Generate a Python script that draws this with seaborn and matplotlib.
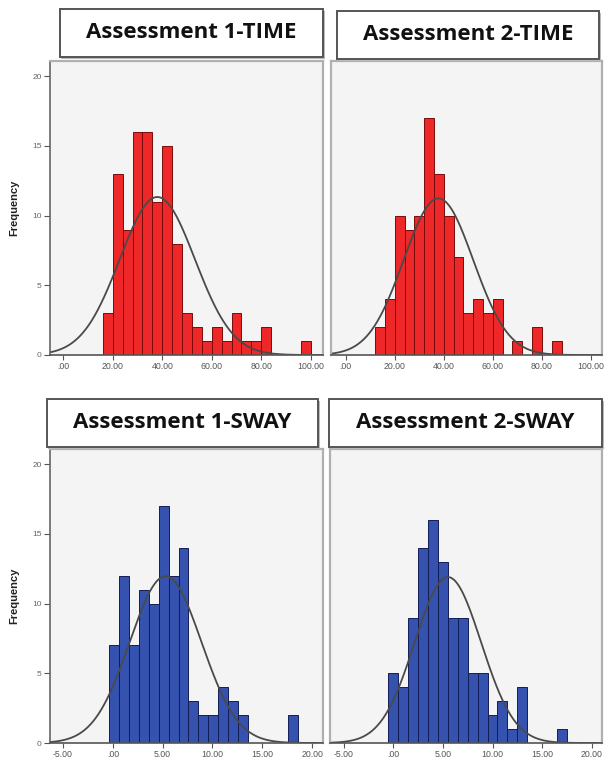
import numpy as np
import pandas as pd
import matplotlib
matplotlib.use("Agg")
import matplotlib.pyplot as plt
from matplotlib.patches import Rectangle
import seaborn as sns

# ---------------- data ----------------
titles = ["Assessment 1-TIME", "Assessment 2-TIME", "Assessment 1-SWAY", "Assessment 2-SWAY"]

time1_start, time1_width = 16.0, 4.0
time1_counts = [3, 13, 9, 16, 16, 11, 15, 8, 3, 2, 1, 2, 1, 3, 1, 1, 2, 0, 0, 0, 1]
time1_mean, time1_sd = 38.0, 15.2

time2_start, time2_width = 12.0, 4.0
time2_counts = [2, 4, 10, 9, 10, 17, 13, 10, 7, 3, 4, 3, 4, 0, 1, 0, 2, 0, 1]
time2_mean, time2_sd = 37.8, 14.2

sway1_start, sway1_width = -0.4, 1.0
sway1_counts = [7, 12, 7, 11, 10, 17, 12, 14, 3, 2, 2, 4, 3, 2, 0, 0, 0, 0, 2]
sway1_mean, sway1_sd = 5.3, 3.6

sway2_start, sway2_width = -0.5, 1.0
sway2_counts = [5, 4, 9, 14, 16, 13, 9, 9, 5, 5, 2, 3, 1, 4, 0, 0, 0, 1]
sway2_mean, sway2_sd = 5.5, 3.35

time_ticks = [0, 20, 40, 60, 80, 100]
time_ticklabels = [".00", "20.00", "40.00", "60.00", "80.00", "100.00"]
sway_ticks = [-5, 0, 5, 10, 15, 20]
sway_ticklabels = ["-5.00", ".00", "5.00", "10.00", "15.00", "20.00"]
y_ticks = [0, 5, 10, 15, 20]
y_ticklabels = ["0", "5", "10", "15", "20"]

# ---------------- style ----------------
sns.set_theme(style="white")
plt.rcParams["font.family"] = ["Liberation Sans", "DejaVu Sans"]

W, H = 604, 760
fig = plt.figure(figsize=(W / 100, H / 100), dpi=100)
fig.patch.set_facecolor("white")

RED, RED_EDGE = "#EE2828", "#7a0a0a"
BLUE, BLUE_EDGE = "#3452AE", "#141c55"
PLOT_BG = "#F4F4F4"


def px_axes(x0, y0, x1, y1):
    return fig.add_axes([x0 / W, 1 - y1 / H, (x1 - x0) / W, (y1 - y0) / H])


panels = [
    dict(title=titles[0], start=time1_start, width=time1_width, counts=time1_counts,
         mean=time1_mean, sd=time1_sd, color=RED, edge=RED_EDGE,
         ticks=time_ticks, labels=time_ticklabels, xlim=(-5.4, 105.0),
         ax=(50, 61, 323, 355), box=(60, 9, 323, 57), left=True),
    dict(title=titles[1], start=time2_start, width=time2_width, counts=time2_counts,
         mean=time2_mean, sd=time2_sd, color=RED, edge=RED_EDGE,
         ticks=time_ticks, labels=time_ticklabels, xlim=(-6.0, 104.5),
         ax=(331, 61, 602, 355), box=(337, 11, 599, 59), left=False),
    dict(title=titles[2], start=sway1_start, width=sway1_width, counts=sway1_counts,
         mean=sway1_mean, sd=sway1_sd, color=BLUE, edge=BLUE_EDGE,
         ticks=sway_ticks, labels=sway_ticklabels, xlim=(-6.3, 21.1),
         ax=(50, 449, 323, 743), box=(47, 399, 318, 447), left=True),
    dict(title=titles[3], start=sway2_start, width=sway2_width, counts=sway2_counts,
         mean=sway2_mean, sd=sway2_sd, color=BLUE, edge=BLUE_EDGE,
         ticks=sway_ticks, labels=sway_ticklabels, xlim=(-6.4, 21.05),
         ax=(330, 449, 602, 743), box=(329, 399, 602, 447), left=False),
]

for p in panels:
    ax = px_axes(*p["ax"])
    ax.set_facecolor(PLOT_BG)
    counts = np.array(p["counts"], dtype=float)
    n_bins = len(counts)
    edges = [float(e) for e in p["start"] + p["width"] * np.arange(n_bins + 1)]
    centers = [(edges[i] + edges[i + 1]) / 2 for i in range(n_bins)]
    df = pd.DataFrame({"value": centers, "count": counts})
    sns.histplot(data=df, x="value", weights="count", bins=edges, ax=ax,
                 color=p["color"], edgecolor=p["edge"], linewidth=0.7, alpha=1.0)

    # fitted normal curve
    n_total = counts.sum()
    xs = np.linspace(p["xlim"][0], p["xlim"][1], 400)
    ys = n_total * p["width"] / (p["sd"] * np.sqrt(2 * np.pi)) * np.exp(-0.5 * ((xs - p["mean"]) / p["sd"]) ** 2)
    sns.lineplot(x=xs, y=ys, ax=ax, color="#4a4a4a", linewidth=1.3)

    ax.set_xlim(*p["xlim"])
    ax.set_ylim(0, 21.1)
    ax.set_xticks(p["ticks"])
    ax.set_xticklabels(p["labels"], fontsize=6.3, color="#555555")
    ax.tick_params(axis="x", direction="out", length=3.5, width=0.8, color="#555555", pad=1.5, bottom=True)
    if p["left"]:
        ax.set_yticks(y_ticks)
        ax.set_yticklabels(y_ticklabels, fontsize=6, color="#666666")
        ax.tick_params(axis="y", direction="out", length=4, width=0.8, color="#555555", pad=2, left=True)
        ax.set_ylabel("Frequency", fontsize=8, fontweight="bold", color="#222222", labelpad=9)
    else:
        ax.set_yticks([])
        ax.set_ylabel("")
    ax.set_xlabel("")
    for side in ["top", "right"]:
        ax.spines[side].set_color("#b0b0b0")
        ax.spines[side].set_linewidth(1.6)
        ax.spines[side].set_visible(True)
    ax.spines["left"].set_color("#666666" if p["left"] else "#b0b0b0")
    ax.spines["left"].set_linewidth(1.2 if p["left"] else 1.6)
    ax.spines["left"].set_visible(True)
    ax.spines["bottom"].set_color("#555555")
    ax.spines["bottom"].set_linewidth(1.2)
    ax.spines["bottom"].set_visible(True)

    # title box
    bx0, by0, bx1, by1 = p["box"]
    shadow = Rectangle((bx0 / W + 1.5 / W, 1 - by1 / H - 1.5 / H), (bx1 - bx0) / W, (by1 - by0) / H,
                       transform=fig.transFigure, facecolor="#bbbbbb", edgecolor="none", zorder=1)
    fig.patches.append(shadow)
    rect = Rectangle((bx0 / W, 1 - by1 / H), (bx1 - bx0) / W, (by1 - by0) / H,
                     transform=fig.transFigure, facecolor="white", edgecolor="#555555",
                     linewidth=1.4, zorder=2)
    fig.patches.append(rect)
    fig.text((bx0 + bx1) / 2 / W, 1 - (by0 + by1) / 2 / H, p["title"],
             ha="center", va="center", fontsize=16, fontweight="bold",
             family=["Open Sans", "DejaVu Sans"], color="#111111", zorder=3)

fig.savefig("out.png", dpi=100, facecolor="white")
